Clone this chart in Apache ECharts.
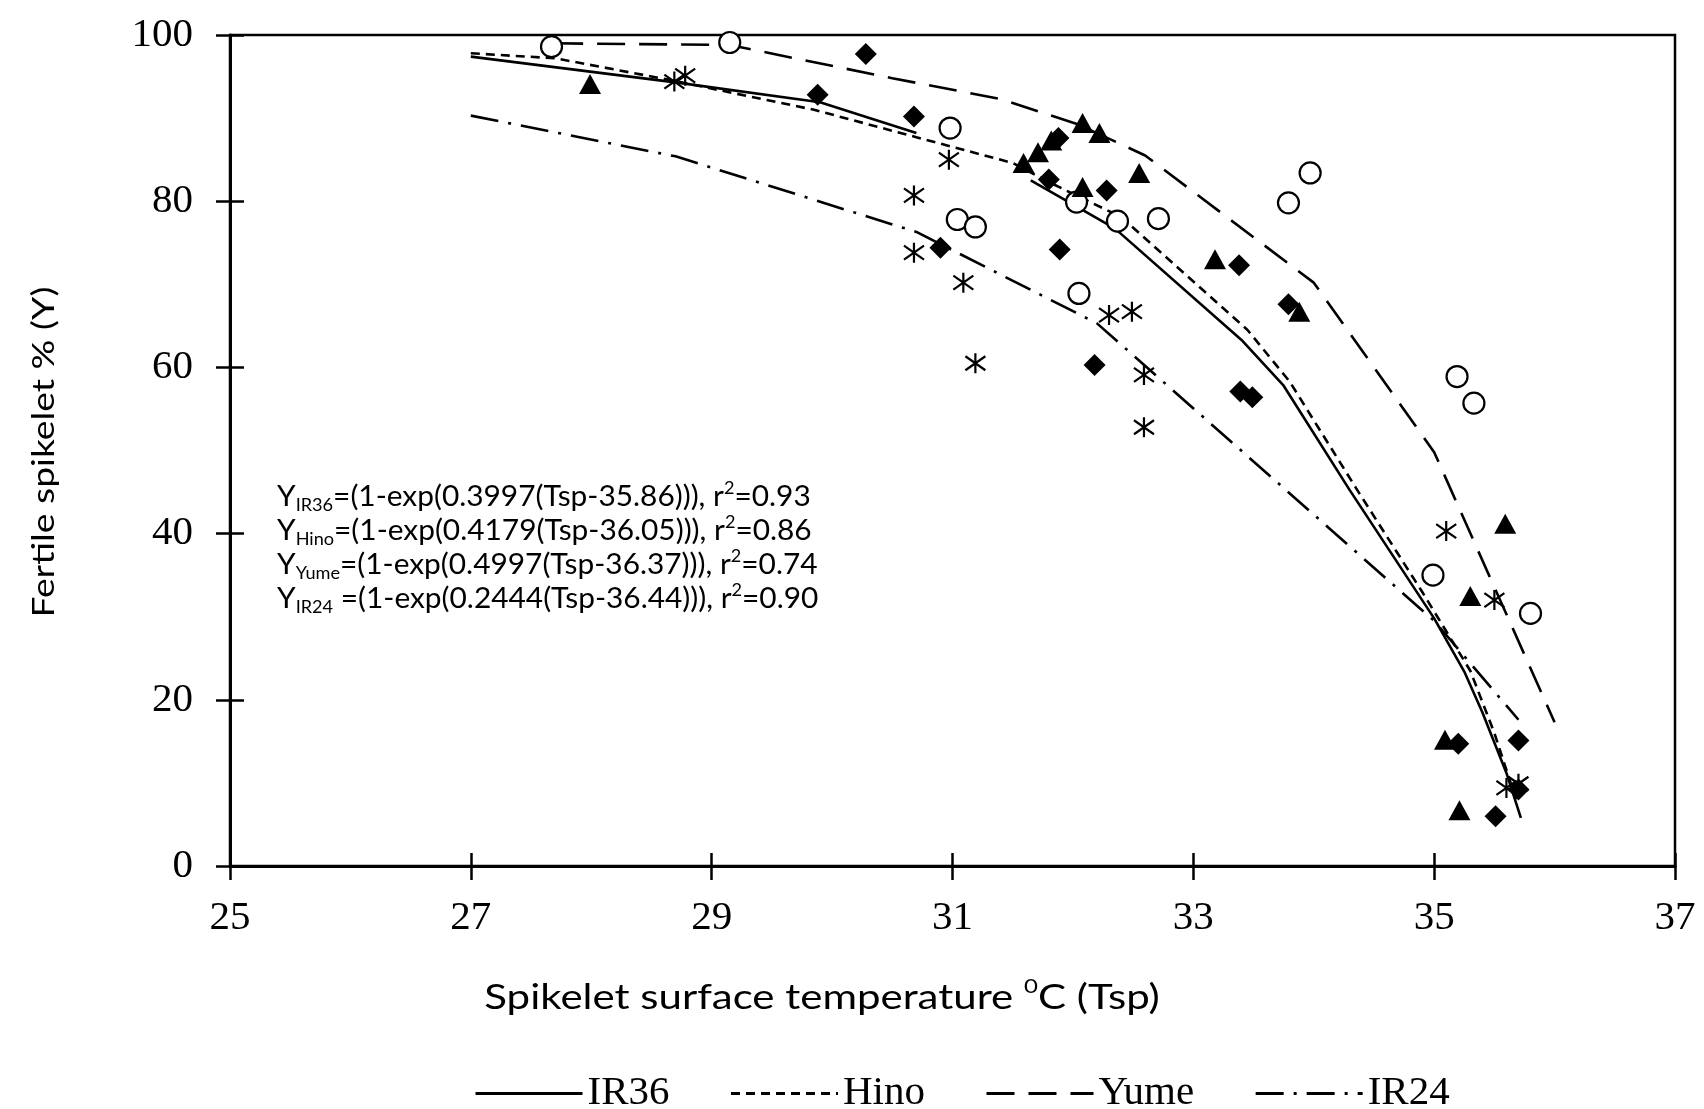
<!DOCTYPE html>
<html>
<head>
<meta charset="utf-8">
<title>Fertile spikelet vs spikelet surface temperature</title>
<script src="https://cdn.jsdelivr.net/npm/echarts@6/dist/echarts.min.js"></script>
<style>
  html, body { margin: 0; padding: 0; background: #fff; }
  #chart { width: 1704px; height: 1109px; }
</style>
</head>
<body>
<div id="chart"></div>
<script>
/* fitted curves (polylines), '-' = break in the line */
const ir36Line = [[27.0, 97.4], [28.7, 94.3], [29.9, 91.9], [30.7, 88.2], [31.2, '-'],
  [31.65, 82.5], [32.05, 79.2], [32.35, 76.7], [33.4, 63.3], [33.75, 57.8], [34.3, 45.2],
  [35.0, 29.8], [35.25, 23.4], [35.4, 18.5], [35.6, 11.2], [35.72, 5.8]]
const hinoLine = [[27.0, 97.8], [27.7, 97.2], [28.65, 94.6], [29.85, 91.0], [30.7, 87.7],
  [31.5, 84.6], [31.8, 82.3], [32.4, 78.1], [33.45, 64.5], [33.8, 58.3], [34.35, 45.5],
  [34.9, 33.0], [35.3, 23.5], [35.5, 16.0], [35.68, 8.0]]
const yumeLine = [[27.7, 99.0], [29.15, 98.8], [30.5, 94.8], [31.4, 92.3], [32.05, 89.2],
  [32.6, 85.5], [34.0, 70.2], [35.0, 49.8], [36.0, 17.3]]
const ir24Line = [[27.0, 90.3], [28.7, 85.4], [30.7, 76.3], [32.2, 65.3], [35.0, 29.5],
  [35.7, 17.6]]

/* observations: [temperature, fertile %] */
const circlePts = [[27.67, 98.6], [29.15, 99.1], [30.98, 88.8], [31.04, 77.8], [31.19, 76.9],
  [32.03, 79.9], [32.05, 68.9], [32.37, 77.6], [32.71, 77.9], [33.79, 79.8], [33.97, 83.4],
  [35.19, 58.9], [35.33, 55.7], [34.99, 35.0], [35.80, 30.4]]
const diamondPts = [[30.28, 97.7], [29.88, 92.8], [30.68, 90.2], [31.88, 87.6], [31.80, 82.6],
  [32.28, 81.3], [31.89, 74.2], [30.90, 74.4], [32.18, 60.3], [33.38, 72.3], [33.79, 67.6],
  [33.39, 57.1], [33.49, 56.4], [35.20, 14.7], [35.70, 15.1], [35.70, 9.2], [35.51, 6.0]]
const trianglePts = [[27.99, 94.1], [31.59, 84.6], [31.71, 85.9], [31.82, 87.3], [32.08, 89.4],
  [32.22, 88.2], [32.08, 81.7], [32.55, 83.4], [33.18, 73.0], [33.88, 66.7], [35.59, 41.2],
  [35.30, 32.5], [35.09, 15.2], [35.21, 6.7]]
const asteriskPts = [[28.69, 94.4], [28.78, 95.1], [30.97, 85.0], [30.68, 80.7], [30.68, 73.8],
  [31.09, 70.2], [31.19, 60.5], [32.30, 66.3], [32.49, 66.7], [32.59, 59.1], [32.59, 52.8],
  [35.10, 40.3], [35.50, 32.0], [35.60, 9.4], [35.70, 9.9]]

/* regression equations shown in the plot */
const eqNames = ['IR36', 'Hino', 'Yume', 'IR24']
const eqBodies = ['=(1-exp(0.3997(Tsp-35.86))), r', '=(1-exp(0.4179(Tsp-36.05))), r',
  '=(1-exp(0.4997(Tsp-36.37))), r', ' =(1-exp(0.2444(Tsp-36.44))), r']
const eqR2 = ['=0.93', '=0.86', '=0.74', '=0.90']

const serif = 'Liberation Serif'
const sans = 'Lato'
const asterisk = 'path://M10,0L10,20M1,3L19,17M1,17L19,3'

const chart = echarts.init(document.getElementById('chart'))

// 公式文本（下标、上标）
const eqText = eqNames.map((n, i) =>
  '{m|Y}{s|' + n + '}{m|' + eqBodies[i] + '}{p|2}{m|' + eqR2[i] + '}').join('\n')

const lineSeries = (name, data, type) => ({
  name: name,
  type: 'line',
  data: data,
  symbol: 'none',
  connectNulls: false,
  itemStyle: { color: '#000' },
  lineStyle: { color: '#000', width: 2.6, type: type },
  z: 2
})

const scatterSeries = (name, data, symbol, size, style) => ({
  name: name,
  type: 'scatter',
  data: data,
  symbol: symbol,
  symbolSize: size,
  itemStyle: Object.assign({ opacity: 1 }, style),
  z: 3
})

chart.setOption({
  animation: false,
  backgroundColor: '#fff',
  grid: {
    left: 230, right: 29, top: 35, bottom: 243,
    show: true, borderColor: '#000', borderWidth: 2.5
  },
  legend: {
    data: ['IR36', 'Hino', 'Yume', 'IR24'],
    left: 469,
    top: 1068,
    itemWidth: 107,
    itemHeight: 14,
    itemGap: 60,
    textStyle: { fontFamily: serif, fontSize: 41, color: '#000' },
    itemStyle: { opacity: 0 },
    lineStyle: { width: 3, opacity: 1 }
  },
  xAxis: [
    {
      type: 'value', min: 25, max: 37, interval: 2,
      axisLine: { lineStyle: { color: '#000', width: 3 } },
      axisTick: { length: 14, lineStyle: { color: '#000', width: 2.5 } },
      axisLabel: { margin: 32, fontFamily: serif, fontSize: 41, color: '#000' },
      splitLine: { show: false }
    },
    {
      type: 'value', min: 25, max: 37, interval: 2, position: 'bottom',
      axisLine: { show: false },
      axisTick: { inside: true, length: 13, lineStyle: { color: '#000', width: 2.5 } },
      axisLabel: { show: false },
      splitLine: { show: false }
    }
  ],
  yAxis: [
    {
      type: 'value', min: 0, max: 100, interval: 20,
      axisLine: { show: true, lineStyle: { color: '#000', width: 3 } },
      axisTick: { show: true, length: 14, lineStyle: { color: '#000', width: 2.5 } },
      axisLabel: { margin: 37, fontFamily: serif, fontSize: 41, color: '#000' },
      splitLine: { show: false }
    },
    {
      type: 'value', min: 0, max: 100, interval: 20, position: 'left',
      axisLine: { show: false },
      axisTick: { show: true, inside: true, length: 14, lineStyle: { color: '#000', width: 2.5 } },
      axisLabel: { show: false },
      splitLine: { show: false }
    }
  ],
  graphic: [
    {
      // y轴标题
      type: 'text', x: 44, y: 452, rotation: Math.PI / 2, scaleX: 1.2,
      style: {
        text: 'Fertile spikelet % (Y)', fill: '#000',
        font: '31px ' + sans, textAlign: 'center', textVerticalAlign: 'middle'
      }
    },
    {
      // x轴标题
      type: 'text', x: 822, y: 998, scaleX: 1.2,
      style: {
        text: '{m|Spikelet surface temperature }{p|0}{m|C (Tsp)}',
        textAlign: 'center', textVerticalAlign: 'middle',
        rich: {
          m: { fontFamily: sans, fontSize: 35, color: '#000', lineHeight: 42 },
          p: { fontFamily: sans, fontSize: 20, color: '#000', lineHeight: 28, verticalAlign: 'top' }
        }
      }
    },
    {
      // 回归方程
      type: 'text', x: 277, y: 480, scaleX: 1.066,
      style: {
        text: eqText,
        textAlign: 'left', textVerticalAlign: 'top',
        rich: {
          m: { fontFamily: sans, fontSize: 28, color: '#000', lineHeight: 34 },
          s: { fontFamily: sans, fontSize: 17, color: '#000', lineHeight: 14, verticalAlign: 'bottom' },
          p: { fontFamily: sans, fontSize: 17, color: '#000', lineHeight: 24, verticalAlign: 'top' }
        }
      }
    }
  ],
  series: [
    lineSeries('IR36', ir36Line, 'solid'),
    lineSeries('Hino', hinoLine, [9, 6]),
    lineSeries('Yume', yumeLine, [28, 14]),
    lineSeries('IR24', ir24Line, [28, 10, 3, 10]),
    scatterSeries('circle', circlePts, 'circle', 21,
      { color: '#fff', borderColor: '#000', borderWidth: 2.2 }),
    scatterSeries('diamond', diamondPts, 'diamond', 22, { color: '#000' }),
    scatterSeries('triangle', trianglePts, 'triangle', [22, 20], { color: '#000' }),
    scatterSeries('asterisk', asteriskPts, asterisk, [20, 20],
      { color: 'none', borderColor: '#000', borderWidth: 2.2 })
  ]
})
</script>
</body>
</html>
